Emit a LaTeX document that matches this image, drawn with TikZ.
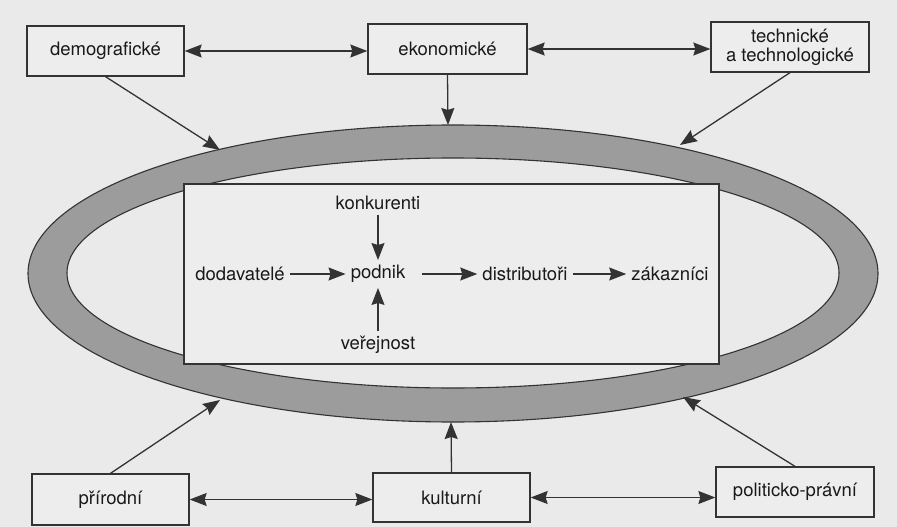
\documentclass[tikz,border=0pt]{standalone}
\usepackage{fontspec}
\setmainfont{TeX Gyre Heros}
\usetikzlibrary{arrows.meta}
\definecolor{pagebg}{HTML}{EAEAEA}
\definecolor{boxbg}{HTML}{EDEDED}
\definecolor{ringfill}{HTML}{9C9C9C}
\definecolor{linec}{HTML}{333333}
\begin{document}
\begin{tikzpicture}[x=1pt,y=-1pt,
  font=\fontsize{18.5}{21}\selectfont,
  every node/.style={text=black!90},
  envbox/.style={draw=linec, line width=1.3pt, fill=boxbg, minimum width=157pt, minimum height=50pt, inner sep=0pt, align=center},
  lbl/.style={inner sep=5pt},
  arr/.style={draw=linec, line width=1.3pt, -{Stealth[length=17pt,width=13pt,inset=2pt]}},
  darr/.style={draw=linec, line width=1.3pt, {Stealth[length=17pt,width=13pt,inset=2pt]}-{Stealth[length=17pt,width=13pt,inset=2pt]}}
]
\useasboundingbox (0,0) rectangle (897,527);
\fill[pagebg] (0,0) rectangle (897,527);

% ring
\draw[linec, line width=1.1pt, fill=ringfill, even odd rule]
  (453,273.5) ellipse [x radius=425pt, y radius=148.5pt]
  (453,273) ellipse [x radius=386pt, y radius=115pt];

% inner rectangle
\draw[linec, line width=1.3pt, fill=boxbg] (184,184) rectangle (719,364);

% ring target points
\coordinate (rdem) at (220,150);
\coordinate (reko) at (448,125);
\coordinate (rtech) at (680,145);
\coordinate (rpri) at (220,400);
\coordinate (rkul) at (451,422);
\coordinate (rpol) at (683,397);

% environment boxes
\node[envbox] (dem) at (105.5,51) {demografické};
\node[envbox, minimum width=159pt] (eko) at (447.5,49) {ekonomické};
\node[envbox, minimum width=158pt] (tech) at (790,47) {technické\\[-2pt]a technologické};
\node[envbox, minimum height=51pt] (pri) at (110.5,499.5) {přírodní};
\node[envbox, minimum height=49pt] (kul) at (451.5,497.5) {kulturní};
\node[envbox, minimum width=158pt] (pol) at (795,492) {politicko-právní};

\draw[darr] (dem.east) -- (dem.east -| eko.west);
\draw[darr] (eko.east) -- (eko.east -| tech.west);
\draw[darr] (pri.east) -- (pri.east -| kul.west);
\draw[darr] (kul.east) -- (kul.east -| pol.west);

\draw[arr] (dem.south) -- (rdem);
\draw[arr] (eko.south) -- (reko);
\draw[arr] (tech.south) -- (rtech);
\draw[arr] (pri.north) -- (rpri);
\draw[arr] (kul.north) -- (rkul);
\draw[arr] (pol.north) -- (rpol);

% inner contents
\node[lbl] (kon) at (378,203) {konkurenti};
\node[lbl] (pod) at (378,274) {podnik};
\node[lbl] (dod) at (240,274) {dodavatelé};
\node[lbl] (dis) at (525,274) {distributoři};
\node[lbl] (zak) at (670,274) {zákazníci};
\node[lbl] (ver) at (378,345) {veřejnost};

\draw[arr] (kon) -- (pod);
\draw[arr] (ver) -- (pod);
\draw[arr] (dod) -- (pod);
\draw[arr, shorten <=12pt] (pod) -- (dis);
\draw[arr] (dis) -- (zak);
\end{tikzpicture}
\end{document}
